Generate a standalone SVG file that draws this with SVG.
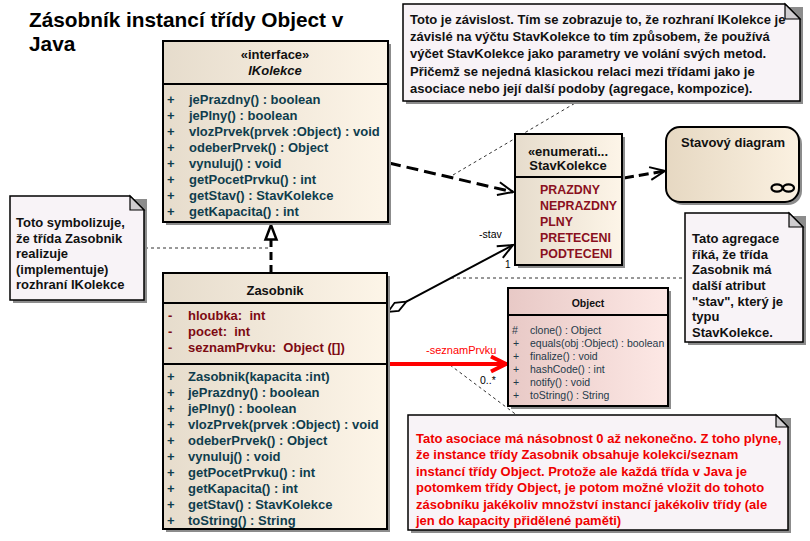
<svg xmlns="http://www.w3.org/2000/svg" width="810" height="541" viewBox="0 0 810 541">
<defs>
<linearGradient id="gClass" x1="0" y1="0" x2="1" y2="0"><stop offset="0" stop-color="#e6dccc"/><stop offset="1" stop-color="#fdf5e8"/></linearGradient>
<linearGradient id="gObj" x1="0" y1="0" x2="1" y2="0"><stop offset="0" stop-color="#e8c9c6"/><stop offset="1" stop-color="#fde8e5"/></linearGradient>
<linearGradient id="gState" x1="0" y1="0" x2="1" y2="0"><stop offset="0" stop-color="#e6d8c2"/><stop offset="1" stop-color="#fbf1e1"/></linearGradient>
<marker id="open" markerUnits="userSpaceOnUse" viewBox="-18 -9 20 18" refX="0" refY="0" markerWidth="20" markerHeight="18" orient="auto" overflow="visible">
<path d="M-15,-6.5 L0,0 L-15,6.5" fill="none" stroke="#000" stroke-width="2" stroke-dasharray="none"/>
</marker>
<marker id="openRed" markerUnits="userSpaceOnUse" viewBox="-18 -10 20 20" refX="0" refY="0" markerWidth="20" markerHeight="20" orient="auto" overflow="visible">
<path d="M-16,-7.5 L-1,0 L-16,7.5" fill="none" stroke="#ff0000" stroke-width="4" stroke-dasharray="none"/>
</marker>
</defs>
<style>
text{font-family:"Liberation Sans",Arial,sans-serif;}
.title{font-size:20.8px;font-weight:bold;fill:#000;}
.shadow{fill:#8c8c8c;}
.box{stroke:#000;stroke-width:2;}
.div{stroke:#000;stroke-width:2;}
.hdr{font-size:13px;font-weight:bold;fill:#111;text-anchor:middle;}
.m{font-size:13px;font-weight:bold;fill:#0f3d4d;}
.a{font-size:13px;font-weight:bold;fill:#7d0a12;white-space:pre;}
.lit{font-size:12.4px;font-weight:bold;fill:#8a1020;}
.om{font-size:10.5px;fill:#1f3a4a;}
.note{fill:#f8f3f7;stroke:#000;stroke-width:1.5;}
.fold{fill:#d0cdd0;stroke:#000;stroke-width:1.2;}
.nt{font-size:13px;font-weight:bold;fill:#111;}
.nr{font-size:13px;font-weight:bold;fill:#f00000;}
.lbl{font-size:10.5px;fill:#000;}
.dotted{fill:none;stroke:#333;stroke-width:1;stroke-dasharray:3,3;}
</style>

<text class="title" x="29" y="27">Zásobník instancí třídy Object v</text>
<text class="title" x="29" y="51">Java</text>

<g id="connectors">
<path class="dotted" d="M145,248 H271"/>
<path class="dotted" d="M453,175 L577,102"/>
<path class="dotted" d="M451,278 H685"/>
<path class="dotted" d="M450,365 L518,416"/>
<path d="M271,273 V240" fill="none" stroke="#000" stroke-width="3" stroke-dasharray="8,5"/>
<polygon points="271,225 265.5,239.5 276.5,239.5" fill="#fff" stroke="#000" stroke-width="2.5"/>
<path d="M389,163 L513,192" fill="none" stroke="#000" stroke-width="3" stroke-dasharray="12,6" marker-end="url(#open)"/>
<path d="M624,178 L665,171" fill="none" stroke="#000" stroke-width="3" stroke-dasharray="10,5" marker-end="url(#open)"/>
<path d="M406.4,301.7 L513,245" fill="none" stroke="#000" stroke-width="2" marker-end="url(#open)"/>
<polygon points="388,312 394.6,302.8 406.4,301.7 398.8,310.8" fill="#fff" stroke="#000" stroke-width="1.8"/>
<text class="lbl" x="479" y="238">-stav</text>
<text class="lbl" x="505" y="268" style="font-size:10px">1</text>
<path d="M388,364 H507" fill="none" stroke="#ff0000" stroke-width="4" marker-end="url(#openRed)"/>
<text class="lbl" x="426" y="354" style="fill:#ff0000;font-size:11px">-seznamPrvku</text>
<text class="lbl" x="480" y="384">0..*</text>
</g>

<g id="note-zavislost">
<rect x="406" y="7" width="397" height="97" class="shadow"/>
<path class="note" d="M403,4 H785 L800,19 V101 H403 Z"/>
<path class="fold" d="M785,4 V19 H800 Z"/>
<text class="nt" x="410" y="23.5">Toto je závislost. Tím se zobrazuje to, že rozhraní IKolekce je<tspan x="410" dy="17.4">závislé na výčtu StavKolekce to tím způsobem, že používá</tspan><tspan x="410" dy="17.4">výčet StavKolekce jako parametry ve volání svých metod.</tspan><tspan x="410" dy="17.4">Přičemž se nejedná klasickou relaci mezi třídami jako je</tspan><tspan x="410" dy="17.4">asociace nebo její další podoby (agregace, kompozice).</tspan></text>
</g>

<g id="IKolekce">
<rect x="166" y="44" width="225" height="181" class="shadow"/>
<rect x="163" y="41" width="225" height="181" fill="url(#gClass)" class="box"/>
<line x1="163" y1="84" x2="388" y2="84" class="div"/>
<text class="hdr" x="275" y="59">«interface»</text>
<text class="hdr" x="275" y="75" font-style="italic">IKolekce</text>
<text class="m" x="167" y="104">+</text><text class="m" x="189" y="104">jePrazdny() : boolean</text>
<text class="m" x="167" y="120">+</text><text class="m" x="189" y="120">jePlny() : boolean</text>
<text class="m" x="167" y="136">+</text><text class="m" x="189" y="136">vlozPrvek(prvek :Object) : void</text>
<text class="m" x="167" y="152">+</text><text class="m" x="189" y="152">odeberPrvek() : Object</text>
<text class="m" x="167" y="168">+</text><text class="m" x="189" y="168">vynuluj() : void</text>
<text class="m" x="167" y="184">+</text><text class="m" x="189" y="184">getPocetPrvku() : int</text>
<text class="m" x="167" y="200">+</text><text class="m" x="189" y="200">getStav() : StavKolekce</text>
<text class="m" x="167" y="216">+</text><text class="m" x="189" y="216">getKapacita() : int</text>
</g>

<g id="note-realizace">
<rect x="13" y="199" width="134" height="104" class="shadow"/>
<path class="note" d="M10,196 H130 L144,210 V300 H10 Z"/>
<path class="fold" d="M130,196 V210 H144 Z"/>
<text class="nt" x="16" y="227">Toto symbolizuje,<tspan x="16" dy="15.6">že třída Zasobnik</tspan><tspan x="16" dy="15.6">realizuje</tspan><tspan x="16" dy="15.6">(implementuje)</tspan><tspan x="16" dy="15.6">rozhraní IKolekce</tspan></text>
</g>

<g id="StavKolekce">
<rect x="518" y="137" width="107" height="131" class="shadow"/>
<rect x="515" y="134" width="107" height="131" fill="url(#gClass)" class="box"/>
<line x1="515" y1="177" x2="622" y2="177" class="div"/>
<text class="hdr" x="568" y="156">«enumerati...</text>
<text class="hdr" x="568" y="170">StavKolekce</text>
<text class="lit" x="540" y="194">PRAZDNY</text>
<text class="lit" x="540" y="210">NEPRAZDNY</text>
<text class="lit" x="540" y="226">PLNY</text>
<text class="lit" x="540" y="242">PRETECENI</text>
<text class="lit" x="540" y="258">PODTECENI</text>
</g>

<g id="StavovyDiagram">
<rect x="669" y="130" width="133" height="75" rx="14" class="shadow"/>
<rect x="666" y="127" width="133" height="75" rx="14" fill="url(#gState)" class="box"/>
<text class="hdr" x="733" y="147">Stavový diagram</text>
<ellipse cx="777" cy="188" rx="5.5" ry="3.6" fill="none" stroke="#000" stroke-width="2.2"/>
<ellipse cx="788.5" cy="188" rx="5.5" ry="3.6" fill="none" stroke="#000" stroke-width="2.2"/>
</g>

<g id="note-agregace">
<rect x="688" y="216" width="118" height="129" class="shadow"/>
<path class="note" d="M685,213 H789 L803,227 V342 H685 Z"/>
<path class="fold" d="M789,213 V227 H803 Z"/>
<text class="nt" x="692" y="243">Tato agregace<tspan x="692" dy="15.67">říká, že třída</tspan><tspan x="692" dy="15.67">Zasobnik má</tspan><tspan x="692" dy="15.67">další atribut</tspan><tspan x="692" dy="15.67">"stav", který je</tspan><tspan x="692" dy="15.67">typu</tspan><tspan x="692" dy="15.67">StavKolekce.</tspan></text>
</g>

<g id="Zasobnik">
<rect x="166" y="276" width="224" height="256" class="shadow"/>
<rect x="163" y="273" width="224" height="256" fill="url(#gClass)" class="box"/>
<line x1="163" y1="303" x2="387" y2="303" class="div"/>
<line x1="163" y1="364" x2="387" y2="364" class="div"/>
<text class="hdr" x="275" y="295">Zasobnik</text>
<text class="a" x="168" y="320">-</text><text class="a" x="188" y="320" xml:space="preserve">hloubka:  int</text>
<text class="a" x="168" y="336">-</text><text class="a" x="188" y="336" xml:space="preserve">pocet:  int</text>
<text class="a" x="168" y="352">-</text><text class="a" x="188" y="352" xml:space="preserve">seznamPrvku:  Object ([])</text>
<text class="m" x="167" y="381">+</text><text class="m" x="188" y="381">Zasobnik(kapacita :int)</text>
<text class="m" x="167" y="397">+</text><text class="m" x="188" y="397">jePrazdny() : boolean</text>
<text class="m" x="167" y="413">+</text><text class="m" x="188" y="413">jePlny() : boolean</text>
<text class="m" x="167" y="429">+</text><text class="m" x="188" y="429">vlozPrvek(prvek :Object) : void</text>
<text class="m" x="167" y="445">+</text><text class="m" x="188" y="445">odeberPrvek() : Object</text>
<text class="m" x="167" y="461">+</text><text class="m" x="188" y="461">vynuluj() : void</text>
<text class="m" x="167" y="477">+</text><text class="m" x="188" y="477">getPocetPrvku() : int</text>
<text class="m" x="167" y="493">+</text><text class="m" x="188" y="493">getKapacita() : int</text>
<text class="m" x="167" y="509">+</text><text class="m" x="188" y="509">getStav() : StavKolekce</text>
<text class="m" x="167" y="525">+</text><text class="m" x="188" y="525">toString() : String</text>
</g>

<g id="Object">
<rect x="511" y="291" width="160" height="118" class="shadow"/>
<rect x="508" y="288" width="160" height="118" fill="url(#gObj)" class="box"/>
<line x1="508" y1="315" x2="668" y2="315" class="div"/>
<text class="hdr" x="588" y="307" style="font-size:10.5px">Object</text>
<text class="om" x="512" y="333.5">#</text><text class="om" x="530" y="333.5">clone() : Object</text>
<text class="om" x="513" y="346.5">+</text><text class="om" x="530" y="346.5">equals(obj :Object) : boolean</text>
<text class="om" x="513" y="359.5">+</text><text class="om" x="530" y="359.5">finalize() : void</text>
<text class="om" x="513" y="372.5">+</text><text class="om" x="530" y="372.5">hashCode() : int</text>
<text class="om" x="513" y="385.5">+</text><text class="om" x="530" y="385.5">notify() : void</text>
<text class="om" x="513" y="398.5">+</text><text class="om" x="530" y="398.5">toString() : String</text>
</g>

<g id="note-asociace">
<rect x="411" y="418" width="380" height="115" class="shadow"/>
<path class="note" d="M408,415 H776 L788,427 V530 H408 Z"/>
<path class="fold" d="M776,415 V427 H788 Z"/>
<text class="nr" x="416" y="443">Tato asociace má násobnost 0 až nekonečno. Z toho plyne,<tspan x="416" dy="16.4">že instance třídy Zasobnik obsahuje kolekci/seznam</tspan><tspan x="416" dy="16.4">instancí třídy Object. Protože ale každá třída v Java je</tspan><tspan x="416" dy="16.4">potomkem třídy Object, je potom možné vložit do tohoto</tspan><tspan x="416" dy="16.4">zásobníku jakékoliv množství instancí jakékoliv třídy (ale</tspan><tspan x="416" dy="16.4">jen do kapacity přidělené paměti)</tspan></text>
</g>
</svg>
